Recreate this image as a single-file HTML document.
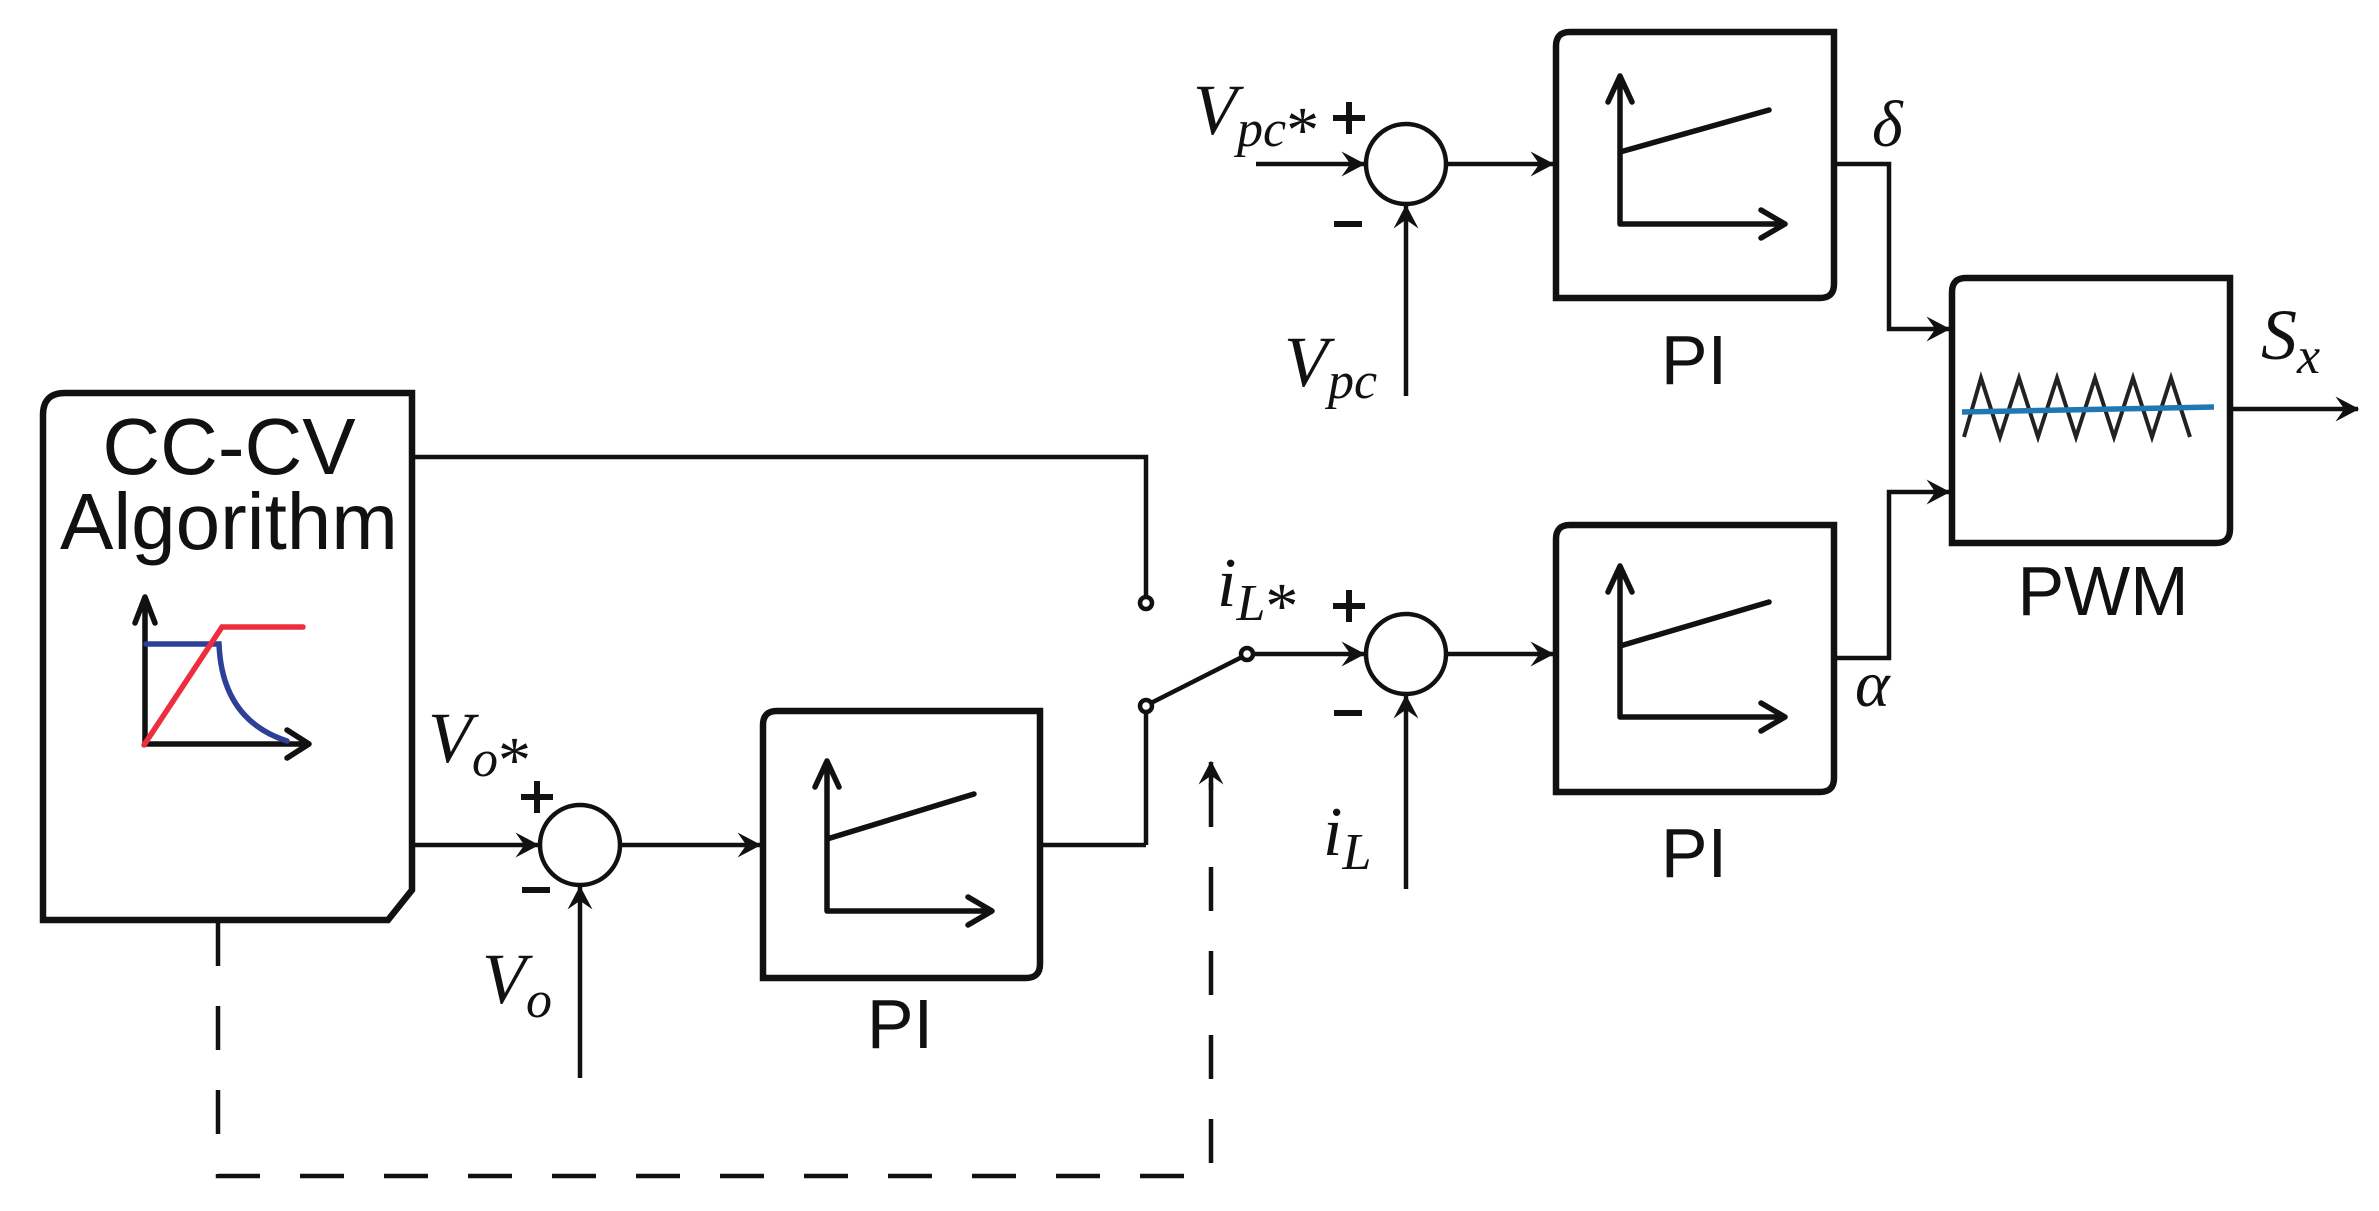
<!DOCTYPE html>
<html><head><meta charset="utf-8"><style>
html,body{margin:0;padding:0;background:#fff}
svg{display:block}
.m{font-family:"Liberation Serif",serif;font-style:italic;fill:#111}
.s{font-family:"Liberation Sans",sans-serif;fill:#111}
</style></head><body>
<svg width="2379" height="1211" viewBox="0 0 2379 1211" xmlns="http://www.w3.org/2000/svg">
<defs>
<marker id="a" markerWidth="30" markerHeight="30" refX="0" refY="0" viewBox="-20 -12 22 24" markerUnits="userSpaceOnUse" orient="auto">
<path d="M1,0 L-18,-10 L-11,0 L-18,10 Z" fill="#111"/>
</marker>
</defs>
<g fill="none" stroke="#111" stroke-width="4.5">
<path d="M43,920 L43,415 Q43,393 65,393 L412,393 L412,890 L388,920 Z" stroke-width="6.5"/>
<path d="M412,457 L1146,457 L1146,597"/>
<circle cx="1146" cy="603" r="6" fill="#fff"/>
<path d="M1146,845 L1146,712"/>
<line x1="1151" y1="703" x2="1242" y2="657"/>
<circle cx="1146" cy="706" r="6" fill="#fff"/>
<circle cx="1247" cy="654" r="6" fill="#fff"/>
<line x1="412" y1="845" x2="538" y2="845" marker-end="url(#a)"/>
<circle cx="580" cy="845" r="40"/>
<line x1="580" y1="1078" x2="580" y2="887" marker-end="url(#a)"/>
<line x1="620" y1="845" x2="760" y2="845" marker-end="url(#a)"/>
<path d="M1040,845 L1146,845"/>
<path d="M763,978 L763,725 Q763,711 777,711 L1040,711 L1040,964 Q1040,978 1026,978 Z" stroke-width="6.5"/>
<path d="M218,922 L218,1176 L1211,1176 L1211,780" stroke-dasharray="44,40"/>
<line x1="1211" y1="790" x2="1211" y2="762" marker-end="url(#a)"/>
<line x1="1253" y1="654" x2="1364" y2="654" marker-end="url(#a)"/>
<circle cx="1406" cy="654" r="40"/>
<line x1="1406" y1="889" x2="1406" y2="696" marker-end="url(#a)"/>
<line x1="1446" y1="654" x2="1553" y2="654" marker-end="url(#a)"/>
<path d="M1556,792 L1556,539 Q1556,525 1570,525 L1834,525 L1834,778 Q1834,792 1820,792 Z" stroke-width="6.5"/>
<path d="M1834,658 L1889,658 L1889,492 L1949,492" marker-end="url(#a)"/>
<line x1="1256" y1="164" x2="1364" y2="164" marker-end="url(#a)"/>
<circle cx="1406" cy="164" r="40"/>
<line x1="1406" y1="396" x2="1406" y2="206" marker-end="url(#a)"/>
<line x1="1446" y1="164" x2="1553" y2="164" marker-end="url(#a)"/>
<path d="M1556,298 L1556,46 Q1556,32 1570,32 L1834,32 L1834,284 Q1834,298 1820,298 Z" stroke-width="6.5"/>
<path d="M1834,164 L1889,164 L1889,329 L1949,329" marker-end="url(#a)"/>
<path d="M1952,543 L1952,292 Q1952,278 1966,278 L2230,278 L2230,529 Q2230,543 2216,543 Z" stroke-width="6.5"/>
<line x1="2230" y1="409" x2="2358" y2="409" marker-end="url(#a)"/>
<polyline points="1964,437 1981,378 2000,437 2019,378 2038,437 2057,378 2076,437 2095,378 2114,437 2133,378 2152,437 2171,378 2190,437" stroke="#222" stroke-width="4"/>
<line x1="1962" y1="412" x2="2214" y2="407" stroke="#1f77b4" stroke-width="5.5"/>
</g>
<g fill="none" stroke="#111" stroke-width="5.5" stroke-linecap="round" stroke-linejoin="round">
<path d="M827,761 L827,911 L990,911 M815,787 L827,761 L839,787 M968,897 L992,911 L968,925 M827,839 L974,794"/>
<path d="M1620,566 L1620,717 L1785,717 M1608,592 L1620,566 L1632,592 M1761,703 L1785,717 L1761,731 M1620,646 L1769,602"/>
<path d="M1620,76 L1620,224 L1785,224 M1608,102 L1620,76 L1632,102 M1761,210 L1785,224 L1761,238 M1620,152 L1769,110"/>
<path d="M145,597 L145,744 L309,744 M135,623 L145,597 L155,623 M287,730 L309,744 L287,758"/>
</g>
<g fill="none" stroke-width="5.5" stroke-linecap="round">
<path d="M146,644 L219,644 Q222,720 287,741" stroke="#2e3f98"/>
<path d="M144,745 L222,627 L303,627" stroke="#ee2d3e"/>
</g>
<g stroke="#111" stroke-width="6">
<path d="M521,797 L553,797 M537,781 L537,813"/>
<line x1="522" y1="890" x2="550" y2="890"/>
<path d="M1333,118 L1365,118 M1349,102 L1349,134"/>
<line x1="1334" y1="224" x2="1362" y2="224"/>
<path d="M1333,606 L1365,606 M1349,590 L1349,622"/>
<line x1="1334" y1="713" x2="1362" y2="713"/>
</g>
<text class="s" x="229" y="474" font-size="80" text-anchor="middle">CC-CV</text>
<text class="s" x="229" y="549" font-size="80" text-anchor="middle">Algorithm</text>
<text class="s" x="900" y="1048" font-size="70" text-anchor="middle">PI</text>
<text class="s" x="1694" y="384" font-size="70" text-anchor="middle">PI</text>
<text class="s" x="1694" y="877" font-size="70" text-anchor="middle">PI</text>
<text class="s" x="2103" y="615" font-size="70" text-anchor="middle">PWM</text>
<text class="m" x="428" y="762" font-size="72">V<tspan font-size="52" dy="14">o</tspan><tspan font-style="normal" font-size="66" dy="6">*</tspan></text>
<text class="m" x="482" y="1003" font-size="72">V<tspan font-size="52" dy="14">o</tspan></text>
<text class="m" x="1193" y="134" font-size="72">V<tspan font-size="52" dy="12">pc</tspan><tspan font-style="normal" font-size="66" dy="6">*</tspan></text>
<text class="m" x="1284" y="386" font-size="72">V<tspan font-size="52" dy="12">pc</tspan></text>
<text class="m" x="1217" y="606" font-size="70">i<tspan font-size="52" dy="14">L</tspan><tspan font-style="normal" font-size="66" dy="8">*</tspan></text>
<text class="m" x="1323" y="855" font-size="70">i<tspan font-size="52" dy="14">L</tspan></text>
<text class="m" x="1872" y="146" font-size="66">δ</text>
<text class="m" x="1855" y="706" font-size="66">α</text>
<text class="m" x="2261" y="359" font-size="72">S<tspan font-size="52" dy="14">x</tspan></text>
</svg>
</body></html>
